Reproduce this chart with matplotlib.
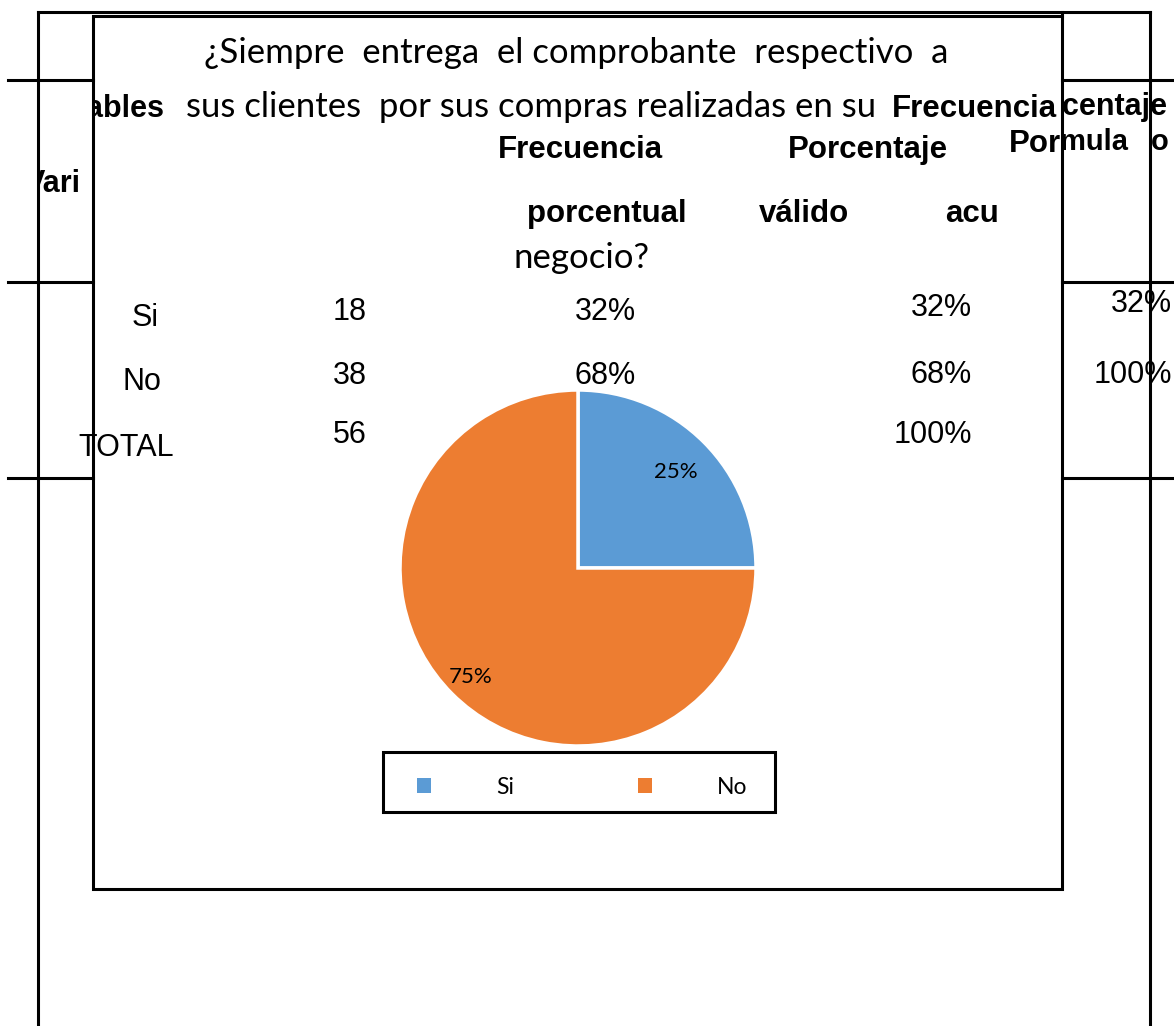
import matplotlib
matplotlib.use("Agg")
import matplotlib.pyplot as plt
from matplotlib.patches import Rectangle, Patch
from matplotlib.transforms import Bbox

# data
labels = ['Si', 'No']
pie_values = [25, 75]
colors = ['#5B9BD5', '#ED7D31']

row_names = ['Si', 'No', 'TOTAL']
freq = ['18', '38', '56']
pct = ['32%', '68%']
pct_valid = ['32%', '68%', '100%']
pct_acum = ['32%', '100%']

W, H = 1174, 1026
fig = plt.figure(figsize=(W / 100, H / 100), dpi=100)
ax = fig.add_axes([0, 0, 1, 1])
ax.set_xlim(0, W)
ax.set_ylim(H, 0)
ax.axis('off')

CAL = 'Lato'
ARI = 'Liberation Sans'
LW = 2.2


def put(x, y, s, size, font, bold=False, ha='left', clip=None):
    t = ax.text(x, y, s, fontsize=size, family=font,
                weight='bold' if bold else 'normal', ha=ha, va='baseline')
    if clip is not None:
        # clip is (x0, x1) in pixels
        t.set_clip_box(Bbox.from_extents(clip[0], 0, clip[1], H))
        t.set_clip_on(True)
    return t


def line(xs, ys):
    ax.plot(xs, ys, color='black', lw=LW, solid_capstyle='projecting')


# table lines
line([38, 1150], [12, 12])
line([38, 38], [12, H])
line([1150, 1150], [12, H])
line([1062, 1062], [12, 16])
for yy in [80, 282, 478]:
    line([8, 93], [yy, yy])
    line([1062, 1174], [yy, yy])

# chart frame
ax.add_patch(Rectangle((93, 16), 1062 - 93, 889 - 16, fill=False,
                       edgecolor='black', lw=LW))

# table header text (shows through the chart)
put(165, 117, 'Variables', 22, ARI, bold=True, ha='right', clip=(95, 1200))
put(81, 192, 'Vari', 22, ARI, bold=True, ha='right', clip=(39, 1200))
put(580, 158, 'Frecuencia', 22.5, ARI, bold=True, ha='center')
put(868, 158, 'Porcentaje', 22.5, ARI, bold=True, ha='center')
put(1009, 152, 'Porcentaje', 22.5, ARI, bold=True, ha='left', clip=(0, 1060))
put(1167, 115, 'Porcentaje', 22, ARI, bold=True, ha='right', clip=(1064, 1200))
put(1128, 150, 'Fórmula', 21, ARI, bold=True, ha='right', clip=(1064, 1149))
put(1151, 150, 'o', 21, ARI, bold=True, ha='left')
put(607, 222, 'porcentual', 22.5, ARI, bold=True, ha='center')
put(804, 222, 'válido', 22.5, ARI, bold=True, ha='center')
put(972, 222, 'acu', 22.5, ARI, bold=True, ha='center')

# table rows
name_y = [326, 390, 456]
num_y = [320, 384, 443]
valid_y = [316, 383, 443]
acum_y = [312, 383]
name_x = [145, 142, 126]
for i, nm in enumerate(row_names):
    put(name_x[i], name_y[i], nm, 22, ARI, ha='center')
    put(350, num_y[i], freq[i], 22, ARI, ha='center')
    put(972, valid_y[i], pct_valid[i], 22, ARI, ha='right')
for i, p in enumerate(pct):
    put(605, num_y[i], p, 22, ARI, ha='center')
for i, p in enumerate(pct_acum):
    put(1172, acum_y[i], p, 22, ARI, ha='right')

# chart title
put(576, 63, '¿Siempre  entrega  el comprobante  respectivo  a', 25, CAL, ha='center')
put(186, 117, 'sus clientes  por sus compras realizadas en su', 25, CAL, ha='left')
put(1057, 117, 'Frecuencia', 22.5, ARI, bold=True, ha='right')
put(581, 268, 'negocio?', 25, CAL, ha='center')

# pie
cx, cy, r = 578, 568, 178
pax = fig.add_axes([(cx - r) / W, 1 - (cy + r) / H, 2 * r / W, 2 * r / H])
wedges, _, autotexts = pax.pie(pie_values, colors=colors, startangle=90,
                               counterclock=False, autopct='%1.0f%%',
                               pctdistance=0.8,
                               wedgeprops=dict(edgecolor='white', linewidth=2.5),
                               textprops=dict(fontsize=16, family=CAL, color='black'))
for t, d in zip(autotexts, [0.775, 0.85]):
    x, y = t.get_position()
    t.set_position((x / 0.8 * d, y / 0.8 * d))
    t.set_va('center_baseline')
pax.set_xlim(-1, 1)
pax.set_ylim(-1, 1)
pax.set_aspect('equal')

# legend
ax.add_patch(Rectangle((383, 752), 392, 60, fill=False, edgecolor='black', lw=LW))
handles = [Patch(facecolor=c, edgecolor='none') for c in colors]
fs = 16.5
em = fs * 100 / 72
fig.legend(handles, labels, loc='center left',
           bbox_to_anchor=(417 / W, 1 - 787 / H), ncol=2, frameon=False,
           prop=dict(family=CAL, size=fs), borderpad=0, borderaxespad=0,
           handlelength=14 / em, handleheight=14 / em,
           handletextpad=65 / em, columnspacing=124 / em)

fig.savefig('out.png', dpi=100, facecolor='white')
